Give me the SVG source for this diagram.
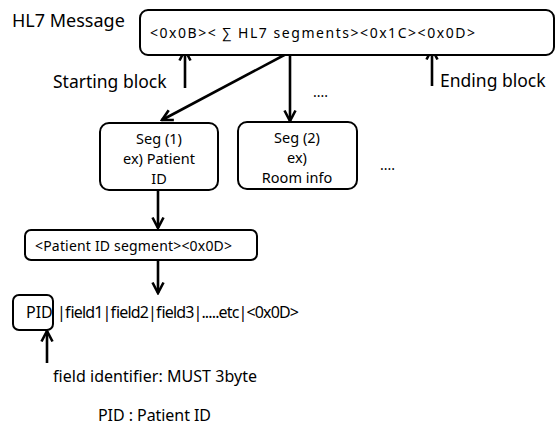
<svg xmlns="http://www.w3.org/2000/svg" width="558" height="426" viewBox="0 0 558 426">
<defs>
<marker id="arr" viewBox="0 0 14 14" refX="12" refY="7" markerWidth="14" markerHeight="14" markerUnits="userSpaceOnUse" orient="auto">
<path d="M1.5,1.5 L12,7 L1.5,12.5" fill="none" stroke="#000" stroke-width="2.6"/>
</marker>
</defs>
<style>
text{font-family:"Noto Sans","Open Sans",sans-serif;fill:#000}
.box{fill:#fff;stroke:#000;stroke-width:2}
.conn{stroke:#000;stroke-width:2.6;fill:none;marker-end:url(#arr)}
.lbl{font-size:17.5px}
.mid{text-anchor:middle;font-size:14.5px}
</style>
<rect width="558" height="426" fill="#fff"/>
<g id="connectors">
<line class="conn" x1="185" y1="88" x2="185" y2="50"/>
<line class="conn" x1="432" y1="86" x2="432" y2="49"/>
<line class="conn" x1="290" y1="52" x2="162" y2="120"/>
<line class="conn" x1="290" y1="52" x2="290" y2="121"/>
<line class="conn" x1="158" y1="190" x2="158" y2="228"/>
<line class="conn" x1="158" y1="260" x2="158" y2="293"/>
<line class="conn" x1="47" y1="363" x2="47" y2="331"/>
</g>
<g id="hl7-label"><text x="12" y="27" font-size="18">HL7 Message</text></g>
<g id="hl7-box">
<rect class="box" x="140" y="10" width="414" height="45" rx="8"/>
<text x="150" y="38" font-size="14" textLength="325">&lt;0x0B&gt;&lt; ∑ HL7 segments&gt;&lt;0x1C&gt;&lt;0x0D&gt;</text>
</g>
<g id="starting"><text class="lbl" x="53" y="88">Starting block</text></g>
<g id="ending"><text class="lbl" x="440" y="87">Ending block</text></g>
<g id="dots1"><text x="313" y="97" font-size="14">....</text></g>
<g id="seg1">
<rect class="box" x="100" y="123" width="118" height="67" rx="9"/>
<text class="mid" x="159" y="144">Seg (1)</text>
<text class="mid" x="159" y="164">ex) Patient</text>
<text class="mid" x="159" y="184">ID</text>
</g>
<g id="seg2">
<rect class="box" x="238" y="122" width="119" height="67" rx="9"/>
<text class="mid" x="297" y="143">Seg (2)</text>
<text class="mid" x="297" y="163">ex)</text>
<text class="mid" x="297" y="183">Room info</text>
</g>
<g id="dots2"><text x="380" y="170" font-size="14">....</text></g>
<g id="segment">
<rect class="box" x="25" y="230" width="232" height="30" rx="6"/>
<text x="35" y="251" font-size="14" textLength="197">&lt;Patient ID segment&gt;&lt;0x0D&gt;</text>
</g>
<g id="pid">
<rect class="box" x="13" y="295" width="40" height="35" rx="6"/>
<text x="26" y="318" font-size="16">PID</text>
</g>
<g id="fields"><text x="57" y="318" font-size="16" textLength="242">|field1|field2|field3|.....etc|&lt;0x0D&gt;</text></g>
<g id="field-id"><text x="53" y="382" font-size="16" textLength="204">field identifier: MUST 3byte</text></g>
<g id="pid-note"><text x="98" y="421" font-size="16" textLength="113">PID : Patient ID</text></g>
</svg>
